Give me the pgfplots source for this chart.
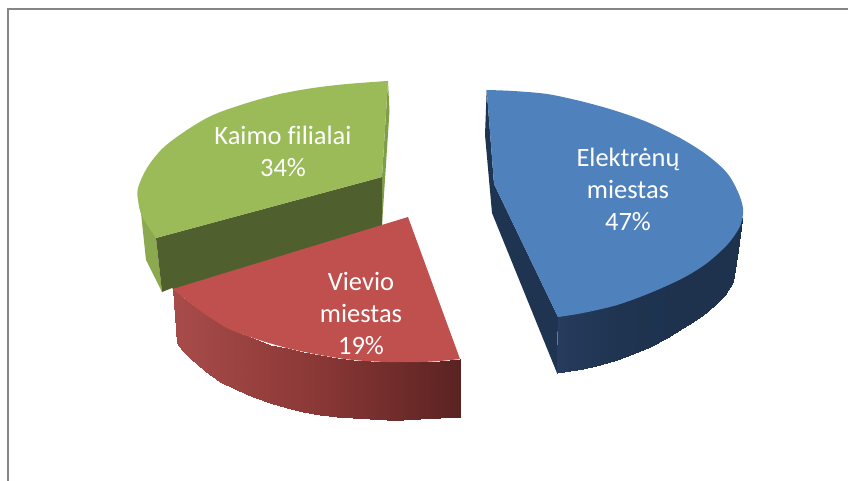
\documentclass[border=0pt]{standalone}
\usepackage{pgfplots}
\pgfplotsset{compat=1.18}
\usepackage{fontspec}
\setmainfont{Carlito}
\definecolor{gtop}{HTML}{9BBB59}
\definecolor{gcut}{HTML}{4F5F2D}
\definecolor{gside}{HTML}{8BAA50}
\definecolor{gsliver}{HTML}{7F9E4A}
\definecolor{rtop}{HTML}{C0504D}
\definecolor{btop}{HTML}{4F81BD}
\definecolor{bcut}{HTML}{1F3450}
\definecolor{frame}{HTML}{868686}
\begin{document}
\begin{tikzpicture}
\useasboundingbox (0,0) rectangle (848pt,481pt);
\begin{axis}[
  anchor=south west,at={(0,0)},
  x=1pt,y=1pt,y dir=reverse,
  xmin=0,xmax=848,ymin=0,ymax=481,
  hide axis,clip=true,
  colormap={redside}{rgb255=(168,76,74) rgb255=(138,56,54) rgb255=(90,35,34)},
  colormap={blueside}{rgb255=(39,60,94) rgb255=(31,52,80) rgb255=(30,50,78) rgb255=(30,50,78)},
  point meta rel=per plot,
]
% frame
\addplot[frame,line width=1.8pt] coordinates {(8.3,481) (8.3,8.7) (848,8.7)};
% green
\addplot[draw=none,fill=gside] coordinates {(138,197) (141,213) (146,260) (162,292) (156,238)} -- cycle;
\addplot[draw=none,fill=gsliver] coordinates {(388,81) (389.5,111) (382,225) (382,177)} -- cycle;
\addplot[draw=none,fill=gcut] coordinates {(156,238) (382,177) (382,230) (178,293) (172,288) (162,292)} -- cycle;
\addplot[draw=none,fill=gtop,smooth,tension=0.55] coordinates {(388,81) (347,84) (313,88) (280,94) (247,103) (213,115) (187,130) (163,148) (147,168) (138,188) (138,200) (142,216) (156,238)};
\addplot[draw=none,fill=gtop] coordinates {(388,81) (280,94) (187,130) (138,195) (156,238) (382,177)} -- cycle;
% red
\addplot[surf,shader=interp,colormap name=redside,mesh/rows=2,point meta=x] coordinates {
 (172.7,289) (182,297) (190,303) (205,314) (220,324) (237,332) (253,338) (270,345) (287,348) (303,352) (320,355) (337,358) (353,360) (370,361) (387,362) (403,362) (420,362) (440,361) (460,359)

 (177,343) (182,350) (190,358) (205,371) (220,382) (237,390) (253,397) (270,403) (287,408) (303,412) (320,415) (337,417) (353,418) (370,419) (387,420) (403,420) (420,419) (440,418) (460,417)
};
\addplot[draw=none,fill=rtop,smooth,tension=0.55] coordinates {(460,359) (440,361) (420,362) (387,362) (353,360) (320,355) (287,348) (253,338) (227,328) (205,314) (190,303) (172.7,289)};
\addplot[draw=none,fill=rtop] coordinates {(408,217) (460,359) (387,362) (287,348) (205,314) (172.7,289)} -- cycle;
% blue
\addplot[draw=none,fill=bcut] coordinates {(486.7,90) (485,135) (492,213) (557,373) (558,317) (494,184)} -- cycle;
\addplot[surf,shader=interp,colormap name=blueside,mesh/rows=2,point meta=x] coordinates {
 (558,315) (570,313) (583,311) (600,307) (617,303) (633,297) (650,291) (667,284) (683,276) (696,269) (707,261) (717,252) (725,245) (733,236) (738,228) (742,218)

 (557,373) (570,371) (583,369) (600,365) (617,360) (633,354) (650,347) (667,338) (683,328) (696,320) (707,312) (717,303) (725,295) (733,282) (737.5,250) (742,220)
};
\addplot[draw=none,fill=btop,smooth,tension=0.55] coordinates {(486.7,90) (513,91) (547,94) (580,101) (613,110) (647,122) (680,138) (707,155) (727,173) (738,192) (743,208) (742,220) (738,230) (727,245) (707,263) (683,278) (650,293) (617,305) (583,313) (558,317)};
\addplot[draw=none,fill=btop] coordinates {(486.7,90) (580,101) (680,138) (743,208) (707,263) (617,305) (558,317) (494,184)} -- cycle;
% labels
\node[white,font=\fontsize{26.5}{32}\selectfont,align=center] at (axis cs:283,151) {Kaimo f\kern0pt ilialai\\34\%};
\node[white,font=\fontsize{26.5}{32}\selectfont,align=center] at (axis cs:361,313) {Vievio\\miestas\\19\%};
\node[white,font=\fontsize{26.5}{32}\selectfont,align=center] at (axis cs:628,189) {Elektrėnų\\miestas\\47\%};
\end{axis}
\end{tikzpicture}
\end{document}
